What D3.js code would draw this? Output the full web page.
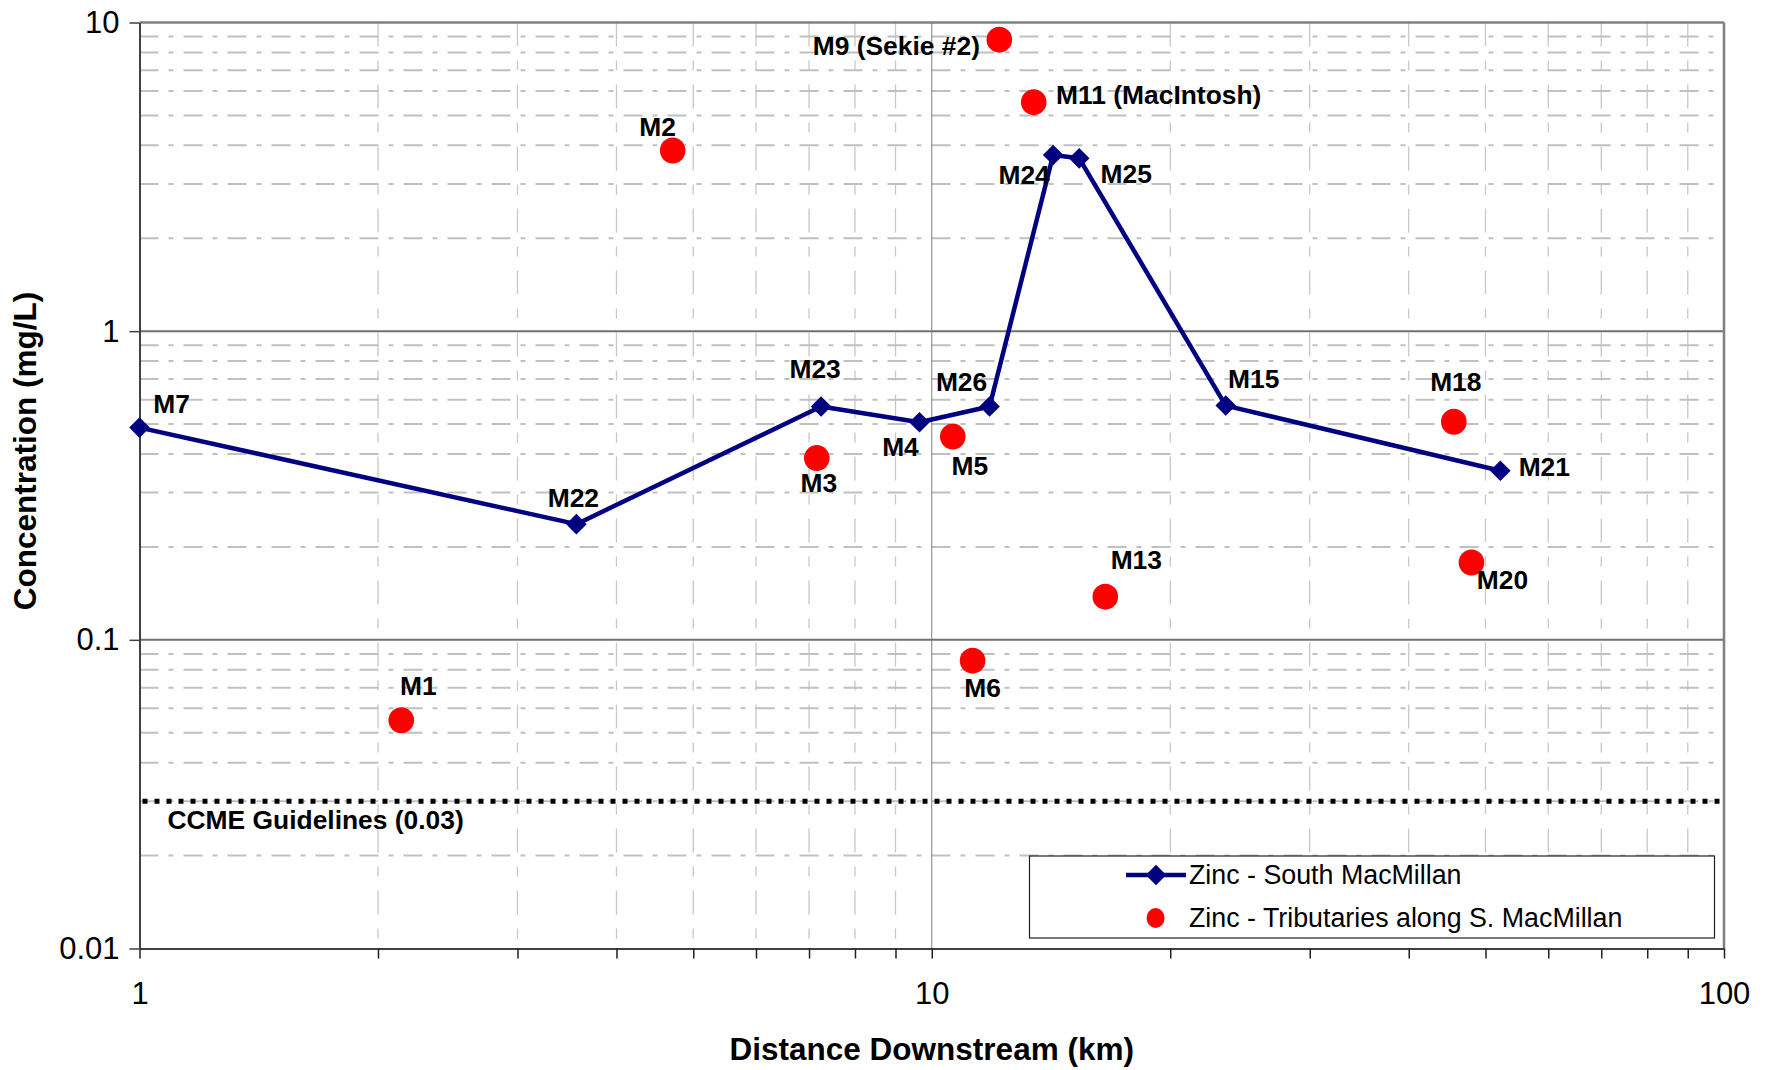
<!DOCTYPE html>
<html>
<head>
<meta charset="utf-8">
<script src="https://cdn.jsdelivr.net/npm/d3@7"></script>
<style>
  html, body { margin: 0; padding: 0; background: #fff; }
  svg { display: block; }
  text { font-family: "Liberation Sans", Arial, sans-serif; }
</style>
</head>
<body>
<svg id="chart" width="1775" height="1070"></svg>
<script>
// ---- Data ----
const mainSites = ["M7", "M22", "M23", "M4", "M26", "M24", "M25", "M15", "M21"];
const mainDist  = [1.0, 3.56, 7.25, 9.65, 11.83, 14.23, 15.35, 23.5, 52.2];
const mainZinc  = [0.487, 0.237, 0.570, 0.507, 0.570, 3.72, 3.63, 0.574, 0.353];

const tribSites = ["M1", "M2", "M3", "M5", "M6", "M9 (Sekie #2)", "M11 (MacIntosh)", "M13", "M18", "M20"];
const tribDist  = [2.14, 4.71, 7.16, 10.63, 11.26, 12.17, 13.45, 16.56, 45.6, 48.0];
const tribZinc  = [0.0549, 3.85, 0.388, 0.4555, 0.0856, 8.80, 5.52, 0.138, 0.509, 0.178];

const guidelineValue = 0.03;
const guidelineLabel = "CCME Guidelines (0.03)";
const xTickValues = [1, 10, 100];
const yTickValues = [0.01, 0.1, 1, 10];
const xTickLabels = ["1", "10", "100"];
const yTickLabels = ["0.01", "0.1", "1", "10"];
const seriesNames = ["Zinc - South MacMillan", "Zinc - Tributaries along S. MacMillan"];
const xTitle = "Distance Downstream (km)";
const yTitle = "Concentration (mg/L)";

// ---- Layout (label offsets in px, relative to each point) ----
const labelOffsets = {
  "M7": [32, -24], "M22": [-3, -26], "M23": [-6, -38], "M4": [-19, 25], "M26": [-28, -25],
  "M24": [-29, 20], "M25": [47, 15], "M15": [28, -27], "M21": [44, -4],
  "M1": [17, -34], "M2": [-15, -24], "M3": [2, 25], "M5": [17, 29], "M6": [10, 27],
  "M9 (Sekie #2)": [-103, 6], "M11 (MacIntosh)": [125, -7], "M13": [31, -37],
  "M18": [2, -40], "M20": [31, 17]
};

const L = 139.5, R = 1724, T = 22.5, B = 948.5;
const svg = d3.select("#chart");

const x = d3.scaleLog().domain([1, 100]).range([L, R]);
const y = d3.scaleLog().domain([0.01, 10]).range([B, T]);

// minor values
const minorX = [], minorY = [];
[1, 10].forEach(d => { for (let k = 2; k <= 9; k++) minorX.push(d * k); });
[0.01, 0.1, 1].forEach(d => { for (let k = 2; k <= 9; k++) minorY.push(+(d * k).toPrecision(3)); });

const grid = svg.append("g");
grid.selectAll(".vminor").data(minorX).join("line")
  .attr("x1", d => x(d)).attr("x2", d => x(d))
  .attr("y1", T).attr("y2", B)
  .attr("stroke", "#c8c8c8").attr("stroke-width", 1.3)
  .attr("stroke-dasharray", "24,14,10,14");
grid.selectAll(".hminor").data(minorY).join("line")
  .attr("x1", L).attr("x2", R)
  .attr("y1", d => y(d)).attr("y2", d => y(d))
  .attr("stroke", "#c0c0c0").attr("stroke-width", 2)
  .attr("stroke-dasharray", "19,10,5,10");
grid.selectAll(".vmajor").data([10]).join("line")
  .attr("x1", d => x(d)).attr("x2", d => x(d))
  .attr("y1", T).attr("y2", B)
  .attr("stroke", "#808080").attr("stroke-width", 1);
grid.selectAll(".hmajor").data([0.1, 1]).join("line")
  .attr("x1", L).attr("x2", R)
  .attr("y1", d => y(d)).attr("y2", d => y(d))
  .attr("stroke", "#707070").attr("stroke-width", 2);

// plot border (top/right)
svg.append("line").attr("x1", L).attr("x2", R).attr("y1", T).attr("y2", T)
  .attr("stroke", "#808080").attr("stroke-width", 2.5);
svg.append("line").attr("x1", R).attr("x2", R).attr("y1", T).attr("y2", B)
  .attr("stroke", "#808080").attr("stroke-width", 2.5);

// axes
const xAxis = d3.axisBottom(x).tickValues(xTickValues.concat(minorX))
  .tickFormat(d => { const i = xTickValues.indexOf(d); return i >= 0 ? xTickLabels[i] : ""; })
  .tickSizeInner(10).tickSizeOuter(0).tickPadding(23);
const gx = svg.append("g").attr("transform", `translate(0,${B})`).call(xAxis);
gx.select(".domain").attr("stroke", "#404040").attr("stroke-width", 2);
gx.selectAll(".tick line").attr("stroke", "#202020").attr("stroke-width", 1.5);
gx.selectAll(".tick text").attr("font-size", 31).attr("fill", "#000")
  .attr("font-family", "'Liberation Sans', Arial, sans-serif");

const yAxis = d3.axisLeft(y).tickValues(yTickValues)
  .tickFormat(d => yTickLabels[yTickValues.indexOf(d)])
  .tickSizeInner(10).tickSizeOuter(0).tickPadding(10);
const gy = svg.append("g").attr("transform", `translate(${L},0)`).call(yAxis);
gy.select(".domain").attr("stroke", "#404040").attr("stroke-width", 2);
gy.selectAll(".tick line").attr("stroke", "#404040").attr("stroke-width", 1.5);
gy.selectAll(".tick text").attr("font-size", 31).attr("fill", "#000")
  .attr("font-family", "'Liberation Sans', Arial, sans-serif");

// guideline
svg.append("line")
  .attr("x1", L + 3).attr("x2", R)
  .attr("y1", y(guidelineValue)).attr("y2", y(guidelineValue))
  .attr("stroke", "#000").attr("stroke-width", 5)
  .attr("stroke-dasharray", "5,7");
svg.append("text")
  .attr("x", 167.5).attr("y", y(guidelineValue) + 18.5).attr("dy", "0.35em")
  .attr("font-size", 26.4).attr("font-weight", "bold").text(guidelineLabel);

const mainData = mainSites.map((s, i) => ({ site: s, d: mainDist[i], v: mainZinc[i] }));
const tribData = tribSites.map((s, i) => ({ site: s, d: tribDist[i], v: tribZinc[i] }));

const line = d3.line().x(d => x(d.d)).y(d => y(d.v));
svg.append("path").datum(mainData)
  .attr("d", line).attr("fill", "none")
  .attr("stroke", "#000080").attr("stroke-width", 4.5).attr("stroke-linejoin", "round");

const diamond = d3.symbol().type(d3.symbolDiamond2).size(270);
svg.selectAll(".dia").data(mainData).join("path")
  .attr("transform", d => `translate(${x(d.d)},${y(d.v)})`)
  .attr("d", diamond).attr("fill", "#000080");

svg.selectAll(".dot").data(tribData).join("ellipse")
  .attr("cx", d => x(d.d)).attr("cy", d => y(d.v))
  .attr("rx", 12.8).attr("ry", 13).attr("fill", "#ff0000");

// point labels
svg.selectAll(".lbl").data(mainData.concat(tribData)).join("text")
  .attr("x", d => x(d.d) + labelOffsets[d.site][0])
  .attr("y", d => y(d.v) + labelOffsets[d.site][1])
  .attr("dy", "0.35em").attr("text-anchor", "middle")
  .attr("font-size", 26.4).attr("font-weight", "bold").attr("fill", "#000")
  .text(d => d.site);

// legend
const lg = svg.append("g");
lg.append("rect").attr("x", 1029.5).attr("y", 856).attr("width", 685).attr("height", 82)
  .attr("fill", "#fff").attr("stroke", "#202020").attr("stroke-width", 1.2);
lg.append("line").attr("x1", 1126).attr("x2", 1186).attr("y1", 875).attr("y2", 875)
  .attr("stroke", "#000080").attr("stroke-width", 4.5);
lg.append("path").attr("transform", "translate(1156,875)").attr("d", diamond).attr("fill", "#000080");
lg.append("text").attr("x", 1189).attr("y", 875).attr("dy", "0.35em")
  .attr("font-size", 26.8).text(seriesNames[0]);
lg.append("ellipse").attr("cx", 1155.6).attr("cy", 918).attr("rx", 9).attr("ry", 10).attr("fill", "#ff0000");
lg.append("text").attr("x", 1189).attr("y", 918).attr("dy", "0.35em")
  .attr("font-size", 26.8).text(seriesNames[1]);

// axis titles
svg.append("text").attr("x", (L + R) / 2).attr("y", 1049).attr("dy", "0.35em")
  .attr("text-anchor", "middle").attr("font-size", 31.5).attr("font-weight", "bold").text(xTitle);
svg.append("text").attr("transform", "translate(25,451) rotate(-90)").attr("dy", "0.35em")
  .attr("text-anchor", "middle").attr("font-size", 31.5).attr("font-weight", "bold").text(yTitle);
</script>
</body>
</html>
